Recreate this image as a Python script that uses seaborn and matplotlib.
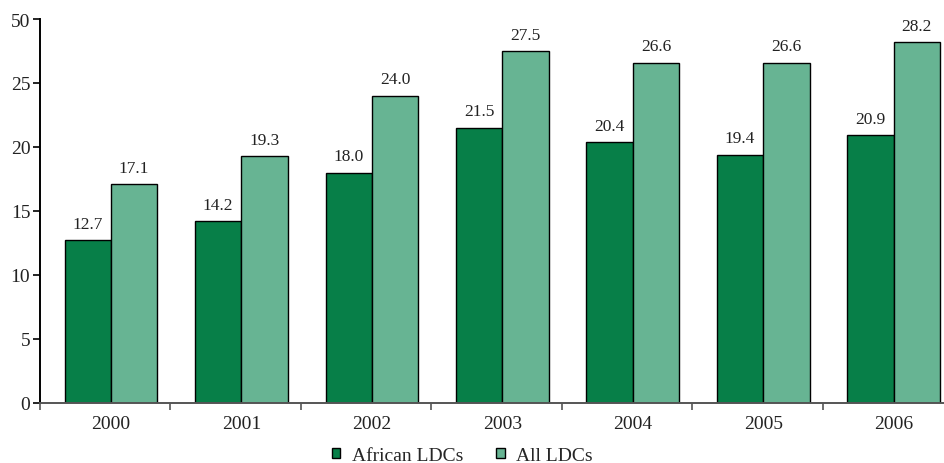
import matplotlib
matplotlib.use("Agg")
import matplotlib.pyplot as plt
import pandas as pd
import seaborn as sns
from matplotlib.ticker import FixedLocator

years = ["2000", "2001", "2002", "2003", "2004", "2005", "2006"]
african_ldcs = [12.7, 14.2, 18.0, 21.5, 20.4, 19.4, 20.9]
all_ldcs = [17.1, 19.3, 24.0, 27.5, 26.6, 26.6, 28.2]
series_names = ["African LDCs", "All LDCs"]
y_tick_values = [0, 5, 10, 15, 20, 25, 30]
y_tick_labels = ["0", "5", "10", "15", "20", "25", "50"]

df = pd.DataFrame({
    "year": years * 2,
    "value": african_ldcs + all_ldcs,
    "series": [series_names[0]] * len(years) + [series_names[1]] * len(years),
})

sns.set_style("white")
plt.rcParams["font.family"] = ["Liberation Serif", "DejaVu Serif"]

fig = plt.figure(figsize=(9.44, 4.64), dpi=100)
ax = fig.add_axes([40 / 944, 60 / 464, 904 / 944, 384 / 464])

palette = {"African LDCs": "#077f48", "All LDCs": "#67b493"}
sns.barplot(data=df, x="year", y="value", hue="series", palette=palette,
            edgecolor="black", linewidth=1.0, width=0.71, gap=0,
            saturation=1, ax=ax, legend=True)

for cont in ax.containers:
    ax.bar_label(cont, fmt="%.1f", padding=6, fontsize=12.5, color="#222222")

x_left = -0.543
ax.set_xlim(x_left, 6.385)
ax.set_ylim(0, 30)
ax.set_yticks(y_tick_values)
ax.set_yticklabels(y_tick_labels, fontsize=14, color="#222222")
ax.tick_params(axis="y", direction="out", length=5, width=1.2, color="black", pad=2, left=True)
ax.tick_params(axis="x", which="major", length=0, labelsize=14, labelcolor="#222222", pad=9)
ax.xaxis.set_minor_locator(FixedLocator([x_left + k for k in range(8)]))
ax.tick_params(axis="x", which="minor", direction="out", length=5, width=1.2, color="#555555", bottom=True)
ax.set_xlabel("")
ax.set_ylabel("")

for side in ["top", "right"]:
    ax.spines[side].set_visible(False)
ax.spines["left"].set_color("black")
ax.spines["left"].set_linewidth(1.4)
ax.spines["bottom"].set_color("#555555")
ax.spines["bottom"].set_linewidth(1.4)

handles, labels = ax.get_legend_handles_labels()
ax.get_legend().remove()
fig.legend(handles, labels, loc="center", bbox_to_anchor=(0.49, 0.016),
           ncol=2, frameon=False, fontsize=14, handlelength=0.42, handleheight=0.42,
           handletextpad=0.6, columnspacing=1.7, borderpad=0.1)

fig.savefig("out.png", dpi=100)
